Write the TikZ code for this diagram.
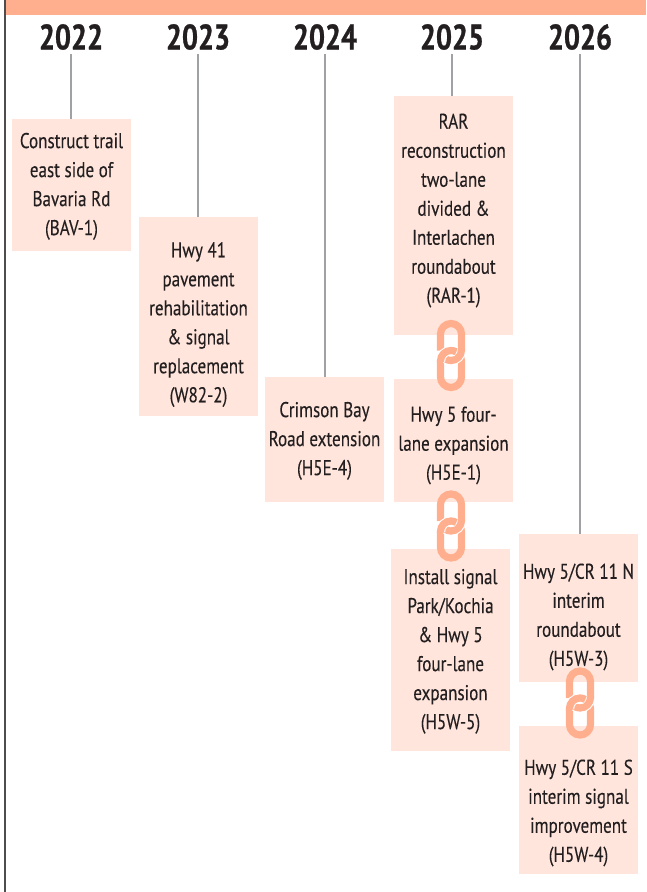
\documentclass[tikz,border=0pt]{standalone}
\usepackage{fontspec}
\setmainfont[FakeStretch=0.8,FakeBold=0.2,BoldFeatures={FakeBold=0.8}]{PT Sans}
\usepackage{xcolor}
\usepackage{tikz}
\definecolor{bandpeach}{HTML}{FFAF8E}
\definecolor{boxpeach}{HTML}{FFE5DB}
\definecolor{inkdark}{HTML}{231F20}
\definecolor{leadgray}{HTML}{9FA1A4}
\tikzset{
    projbox/.style={fill=boxpeach, inner sep=0pt, minimum width=89.25pt},
    every label/.style={text=inkdark, inner sep=0pt, align=center,
        font=\fontsize{16}{21.75}\selectfont},
    yearhead/.style={text=inkdark, inner sep=0pt, minimum height=25.5pt,
        font=\fontsize{26.5}{28}\selectfont\bfseries},
    yearline/.style={draw=leadgray, line width=1.6pt},
    chainring/.style={draw=bandpeach, line width=5.4pt},
    chaingap/.style={draw=white, line width=7pt},
    pics/chainlink/.style={code={
        % lower ring first, the upper one goes over it
        \draw[chainring] (-10.5,-5.5) -- (-10.5,-21.5) arc[start angle=180, end angle=360, radius=10.5] -- (10.5,-5.5) arc[start angle=0, end angle=180, radius=10.5];
        \draw[chainring] (-10.5,5) -- (-10.5,21.5) arc[start angle=180, end angle=0, radius=10.5] -- (10.5,5.5);
        \draw[chaingap] (10.5,5.5) arc[start angle=0, end angle=-125, radius=10.5];
        \draw[chainring] (10.5,6.5) -- (10.5,5.5) arc[start angle=0, end angle=-125, radius=10.5];
        % left side of the lower ring back on top
        \draw[chaingap] (-10.5,-5.5) arc[start angle=180, end angle=60, radius=10.5];
        \draw[chainring] (-10.5,-6.5) -- (-10.5,-5.5) arc[start angle=180, end angle=60, radius=10.5];
    }}
}
\begin{document}
\begin{tikzpicture}[x=0.75pt, y=0.75pt]
    \useasboundingbox (0,0) rectangle (646,-892);

    \fill[bandpeach] (6,0) rectangle (646,-15);
    \draw[draw=inkdark!80, line width=1.5pt] (5,0) -- (5,-892);

    \node[yearhead] at (71,-37) (y2022) {2022};
    \node[yearhead] at (198,-37) (y2023) {2023};
    \node[yearhead] at (325,-37) (y2024) {2024};
    \node[yearhead] at (452,-37) (y2025) {2025};
    \node[yearhead] at (580,-37) (y2026) {2026};

    \node[projbox, minimum height=99pt, label={[yshift=-1pt]center:Construct trail\\east side of\\Bavaria Rd\\(BAV-1)}] at (71.5,-185) (bav) {};
    \node[projbox, minimum height=149.25pt, label={[yshift=-6pt]center:Hwy 41\\pavement\\rehabilitation\\\& signal\\replacement\\(W82-2)}] at (198.5,-316.5) (w82) {};
    \node[projbox, minimum height=93.75pt, label={[yshift=-1pt]center:Crimson Bay\\Road extension\\(H5E-4)}] at (324.5,-439.5) (crimson) {};
    \node[projbox, minimum height=179.25pt, label={[yshift=3.75pt]center:RAR\\reconstruction\\two-lane\\divided \&\\Interlachen\\roundabout\\(RAR-1)}] at (453.5,-215.5) (rar) {};
    \node[projbox, minimum height=92.25pt, label={[yshift=-3.75pt]center:Hwy 5 four-\\lane expansion\\(H5E-1)}] at (453.5,-440.5) (fourlane) {};
    \node[projbox, minimum height=151.5pt, label={[yshift=-1pt]center:Install signal\\Park/Kochia\\\& Hwy 5\\four-lane\\expansion\\(H5W-5)}] at (450.5,-650) (kochia) {};
    \node[projbox, minimum height=111pt, label={[yshift=-6.75pt]center:Hwy 5/CR 11 N\\interim\\roundabout\\(H5W-3)}] at (578.5,-608) (north) {};
    \node[projbox, minimum height=111pt, label={[yshift=-9.75pt]center:Hwy 5/CR 11 S\\interim signal\\improvement\\(H5W-4)}] at (578.5,-800) (south) {};

    \draw[yearline] (y2022.south) -- (y2022.south |- bav.north);
    \draw[yearline] (y2023.south) -- (y2023.south |- w82.north);
    \draw[yearline] (y2024.south) -- (y2024.south |- crimson.north);
    \draw[yearline] (y2025.south) -- (y2025.south |- rar.north);
    \draw[yearline] (y2026.south) -- (y2026.south |- north.north);

    \pic at (451,-355.5) {chainlink};
    \pic at (451,-526) {chainlink};
    \pic at (580,-703) {chainlink};
\end{tikzpicture}
\end{document}
